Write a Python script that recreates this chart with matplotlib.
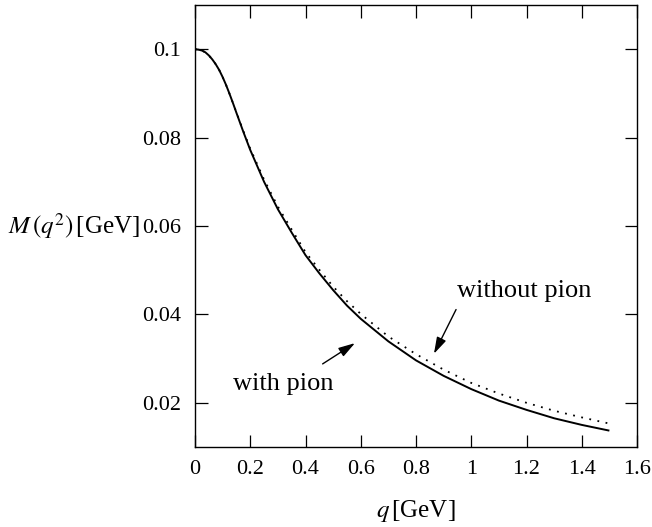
import matplotlib
matplotlib.use("Agg")
import matplotlib.pyplot as plt
from matplotlib.ticker import FuncFormatter

plt.rcParams['font.family'] = ['Liberation Serif', 'DejaVu Serif']
plt.rcParams['mathtext.fontset'] = 'stix'

q = [0.0, 0.0125, 0.025, 0.0375, 0.05, 0.0625, 0.075, 0.0875, 0.1, 0.1125,
     0.125, 0.1375, 0.15, 0.175, 0.2, 0.25, 0.3, 0.35,
     0.4, 0.45, 0.5, 0.55, 0.6, 0.7, 0.8, 0.9, 1.0, 1.1, 1.2, 1.3, 1.4, 1.5]
with_pion = [0.1000, 0.0999, 0.0997, 0.0993, 0.0986, 0.0977, 0.0966, 0.0953,
             0.0937, 0.0919, 0.0899, 0.0878, 0.0856, 0.0813,
             0.0772, 0.0700, 0.0638, 0.0585, 0.0534, 0.0493, 0.0455, 0.0420,
             0.0390, 0.0339, 0.0296, 0.0261, 0.0231, 0.0205, 0.0184, 0.0165,
             0.0150, 0.0137]
without_pion = [0.1000, 0.0999, 0.0997, 0.0993, 0.0986, 0.0977, 0.0966, 0.0953,
                0.0937, 0.0919, 0.0899, 0.0878, 0.0857, 0.0815,
                0.0775, 0.0705, 0.0644, 0.0592, 0.0541, 0.0501, 0.0463, 0.0430,
                0.0401, 0.0350, 0.0310, 0.0275, 0.0245, 0.0221, 0.0200, 0.0182,
                0.0167, 0.0153]
xticks = [0, 0.2, 0.4, 0.6, 0.8, 1.0, 1.2, 1.4, 1.6]
yticks = [0.02, 0.04, 0.06, 0.08, 0.1]

fig = plt.figure(figsize=(6.52, 5.27), dpi=100)
ax = fig.add_axes([195/652, 1-447/527, (637-195)/652, (447-5)/527])

ax.plot(q, with_pion, color='black', lw=1.4, solid_capstyle='butt',
        solid_joinstyle='round')
ax.plot(q, without_pion, color='black', lw=1.3, linestyle=(0, (1, 3.6)))

ax.set_xlim(0, 1.6)
ax.set_ylim(0.01, 0.11)
ax.set_xticks(xticks)
ax.set_yticks(yticks)
fmt = FuncFormatter(lambda v, p: f"{v:g}")
ax.xaxis.set_major_formatter(fmt)
ax.yaxis.set_major_formatter(fmt)
ax.tick_params(direction='in', length=9, width=0.9, top=True, right=True,
               labelsize=16, pad=9)
ax.tick_params(axis='y', pad=10)
for s in ax.spines.values():
    s.set_linewidth(1.0)

ax.set_xlabel(r"$q\,$[GeV]", fontsize=18, labelpad=14)
ax.text(-0.125, 0.06, r"$M\,(q^2)\,$[GeV]", transform=ax.get_yaxis_transform(),
        ha='right', va='center', fontsize=18)

arrow = dict(arrowstyle='-|>,head_length=1.0,head_width=0.3', color='black',
             lw=1.0, shrinkA=0, shrinkB=0)
ax.annotate("", xy=(0.865, 0.0311), xytext=(0.945, 0.0411), arrowprops=arrow)
ax.text(1.193, 0.0452, "without pion", ha='center', va='center', fontsize=19)
ax.annotate("", xy=(0.579, 0.0335), xytext=(0.462, 0.0288), arrowprops=arrow)
ax.text(0.319, 0.0243, "with pion", ha='center', va='center', fontsize=19)

fig.savefig("out.png", dpi=100)
